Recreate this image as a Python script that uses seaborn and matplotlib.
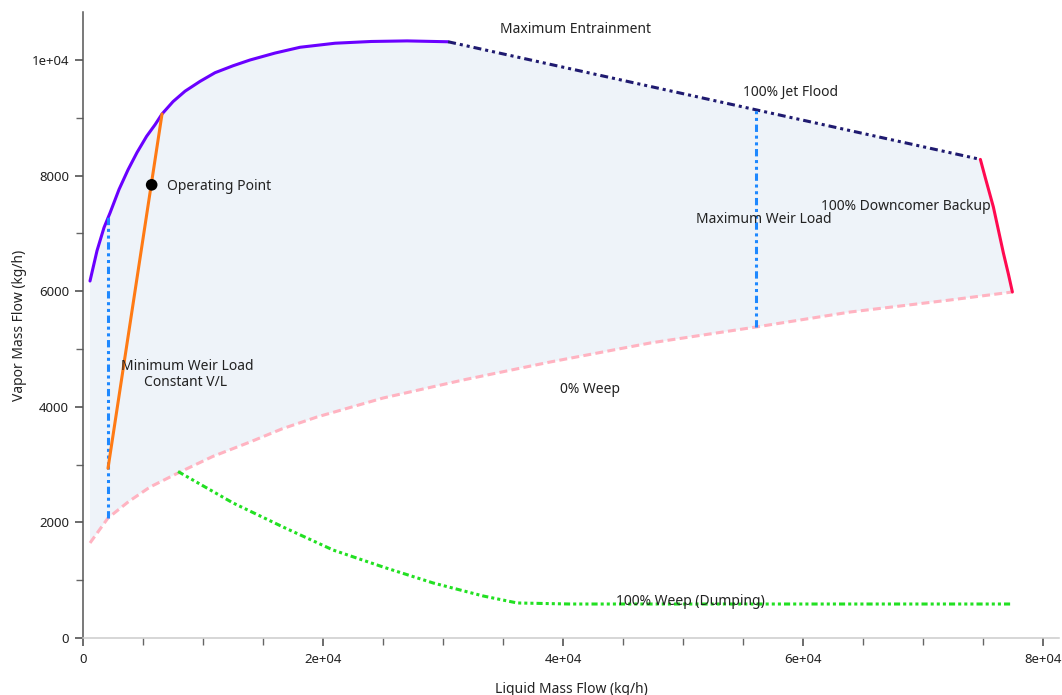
import matplotlib
matplotlib.use("Agg")
import matplotlib.pyplot as plt
import seaborn as sns
from matplotlib.ticker import MultipleLocator, FuncFormatter

# Tray operating envelope (liquid vs vapor mass flow, kg/h)
entrain_x = [583, 1167, 1750, 2250, 3000, 3750, 4500, 5300, 6000, 6583,
             7500, 8500, 9750, 11000, 12500, 13917, 16000, 18083, 21000,
             24000, 27000, 30417]
entrain_y = [6176, 6700, 7100, 7353, 7760, 8100, 8400, 8680, 8880, 9066,
             9280, 9460, 9630, 9780, 9900, 10000, 10120, 10220, 10290,
             10320, 10330, 10315]

jetflood_x = [30417, 74750]
jetflood_y = [10315, 8280]

downcomer_x = [74750, 75167, 75833, 76250, 76667, 77083, 77417]
downcomer_y = [8280, 7958, 7457, 7059, 6661, 6298, 5986]

weep0_x = [583, 2083, 3800, 5583, 8083, 10800, 13917, 16600, 19500, 25000,
           31667, 38917, 47250, 56083, 63917, 72250, 77417]
weep0_y = [1644, 2076, 2360, 2612, 2872, 3140, 3391, 3620, 3824, 4152,
           4464, 4775, 5104, 5381, 5640, 5848, 5986]

dump_x = [7917, 12500, 16667, 20833, 25000, 29167, 33333, 36167, 40583, 77417]
dump_y = [2880, 2336, 1920, 1522, 1228, 952, 727, 606, 588, 588]

min_weir_x = [2083, 2083]
min_weir_y = [2076, 7290]
max_weir_x = [56083, 56083]
max_weir_y = [5381, 9137]

vl_x = [2083, 6583]
vl_y = [2936, 9066]

op_x = [5720]
op_y = [7840]

labels = [
    ("Maximum Entrainment", 41000, 10519, "center"),
    ("100% Jet Flood", 58917, 9446, "center"),
    ("Maximum Weir Load", 56667, 7232, "center"),
    ("100% Downcomer Backup", 68500, 7457, "center"),
    ("Minimum Weir Load", 8700, 4689, "center"),
    ("Constant V/L", 8583, 4412, "center"),
    ("0% Weep", 42250, 4291, "center"),
    ("100% Weep (Dumping)", 50583, 623, "center"),
    ("Operating Point", 7000, 7803, "left"),
]

sns.set_theme(style="ticks")
plt.rcParams["font.family"] = ["Noto Sans", "DejaVu Sans"]

fig = plt.figure(figsize=(10.62, 6.95), dpi=100)
ax = fig.add_axes([83 / 1062, 57 / 695, (1059 - 83) / 1062, (638 - 12) / 695])

# shaded stable-operation region
upper_x = entrain_x + jetflood_x[1:] + downcomer_x[1:]
upper_y = entrain_y + jetflood_y[1:] + downcomer_y[1:]
poly_x = upper_x + weep0_x[::-1]
poly_y = upper_y + weep0_y[::-1]
ax.fill(poly_x, poly_y, color="#eef3f9", lw=0, zorder=0)

lw = 2.2
sns.lineplot(x=weep0_x, y=weep0_y, ax=ax, color="#ffb3c1", lw=lw,
             estimator=None, sort=False, linestyle=(0, (2.6, 1.4)))
sns.lineplot(x=dump_x, y=dump_y, ax=ax, color="#22e022", lw=lw,
             estimator=None, sort=False,
             linestyle=(0, (2.0, 1.0, 1, 1.0, 1, 1.0, 1, 1.0)))
sns.lineplot(x=entrain_x, y=entrain_y, ax=ax, color="#6a00ff", lw=lw,
             estimator=None, sort=False)
sns.lineplot(x=jetflood_x, y=jetflood_y, ax=ax, color="#1f1a70", lw=lw,
             estimator=None, sort=False,
             linestyle=(0, (2.6, 1.3, 1, 1.3, 1, 1.3)))
sns.lineplot(x=downcomer_x, y=downcomer_y, ax=ax, color="#ff0a50", lw=lw,
             estimator=None, sort=False)
for wx, wy in ((min_weir_x, min_weir_y), (max_weir_x, max_weir_y)):
    sns.lineplot(x=wx, y=wy, ax=ax, color="#1e88ff", lw=lw,
                 estimator=None, sort=False,
                 linestyle=(0, (2.4, 1.2, 1, 1.2, 1, 1.2)))
sns.lineplot(x=vl_x, y=vl_y, ax=ax, color="#ff7a14", lw=lw,
             estimator=None, sort=False)
sns.scatterplot(x=op_x, y=op_y, ax=ax, color="black", s=70,
                edgecolor="none", zorder=5)

for text, tx, ty, ha in labels:
    ax.text(tx, ty, text, ha=ha, va="center", fontsize=10, color="#222222")

ax.set_xlim(0, 81300)
ax.set_ylim(0, 10830)

fmt = FuncFormatter(lambda v, p: "%.4g" % v)
ax.xaxis.set_major_locator(MultipleLocator(20000))
ax.xaxis.set_minor_locator(MultipleLocator(5000))
ax.yaxis.set_major_locator(MultipleLocator(2000))
ax.yaxis.set_minor_locator(MultipleLocator(1000))
ax.xaxis.set_major_formatter(fmt)
ax.yaxis.set_major_formatter(fmt)

ax.tick_params(axis="both", which="major", length=6, width=1.1,
               color="#444444", labelsize=9.5, labelcolor="#222222")
ax.tick_params(axis="both", which="minor", length=5, width=1,
               color="#666666")
ax.tick_params(axis="x", which="both", pad=5)
ax.tick_params(axis="y", which="both", pad=4)

sns.despine(ax=ax)
ax.spines["left"].set_color("#555555")
ax.spines["left"].set_linewidth(1.1)
ax.spines["bottom"].set_color("#cccccc")
ax.spines["bottom"].set_linewidth(1.1)

ax.set_xlabel("Liquid Mass Flow (kg/h)", fontsize=10, color="#222222",
              labelpad=11)
ax.set_ylabel("Vapor Mass Flow (kg/h)", fontsize=10, color="#222222",
              labelpad=3)

fig.savefig("out.png", dpi=100)
